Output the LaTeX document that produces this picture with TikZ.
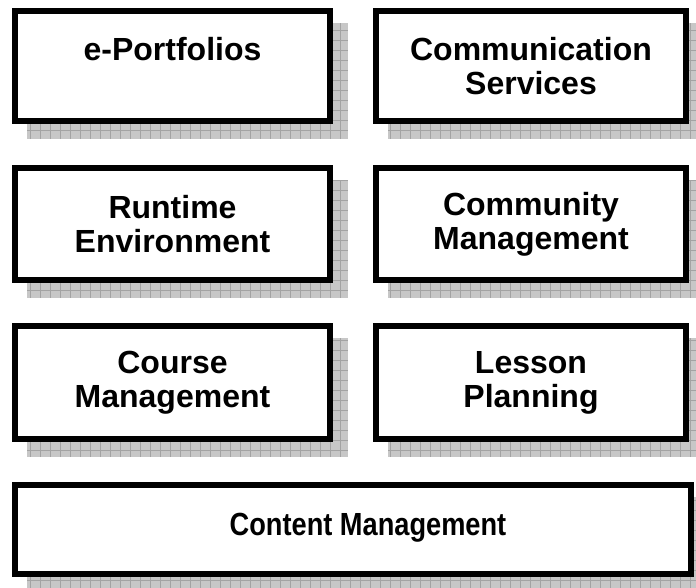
\documentclass[tikz,border=0pt]{standalone}
\usepackage{fontspec}
\setmainfont{Liberation Sans}
\usetikzlibrary{backgrounds}
\tikzset{
	block/.style={draw=black, line width=6pt, fill=white, align=center,
		font=\fontsize{32}{34}\selectfont\bfseries, inner sep=0pt},
	shadowfill/.style={fill=black!22, path picture={
		\draw[black!36, line width=0.5pt, step=10pt]
			(path picture bounding box.south west) grid (path picture bounding box.north east);}}
}
\def\boxshadow(#1){\fill[shadowfill] ([shift={(15,15)}]#1.north west) rectangle ([shift={(15,15)}]#1.south east);}

\begin{document}
\begin{tikzpicture}[x=1pt, y=-1pt]
		%%%%% START %%%%%
		\useasboundingbox (0, 0) rectangle (696, 587);
		
		\node[block, minimum width=315, minimum height=110] (portfolio) at (172.5, 66) {e-Portfolios\\\mbox{}};
		\node[block, minimum width=310, minimum height=110] (commserv) at (531, 66) {Communication\\Services};
		
		\node[block, minimum width=315, minimum height=112] (runtime) at (172.5, 224) {Runtime\\Environment};
		\node[block, minimum width=310, minimum height=112] (community) at (531, 224) {Community\\Management};
		
		\node[block, minimum width=315, minimum height=113] (course) at (172.5, 382.5) {Course\\Management};
		\node[block, minimum width=310, minimum height=113] (lesson) at (531, 382.5) {Lesson\\Planning};
		
		\node[block, minimum width=676, minimum height=89, text depth=10pt] (content) at (353, 529.5) {\hspace*{30pt}\scalebox{0.85}[1]{Content Management}};
		
		% shadows behind the boxes
		\begin{scope}[on background layer]
			\boxshadow(portfolio)
			\boxshadow(commserv)
			\boxshadow(runtime)
			\boxshadow(community)
			\boxshadow(course)
			\boxshadow(lesson)
			\boxshadow(content)
		\end{scope}
		
		%%%%% END %%%%%
	\end{tikzpicture}
\end{document}
